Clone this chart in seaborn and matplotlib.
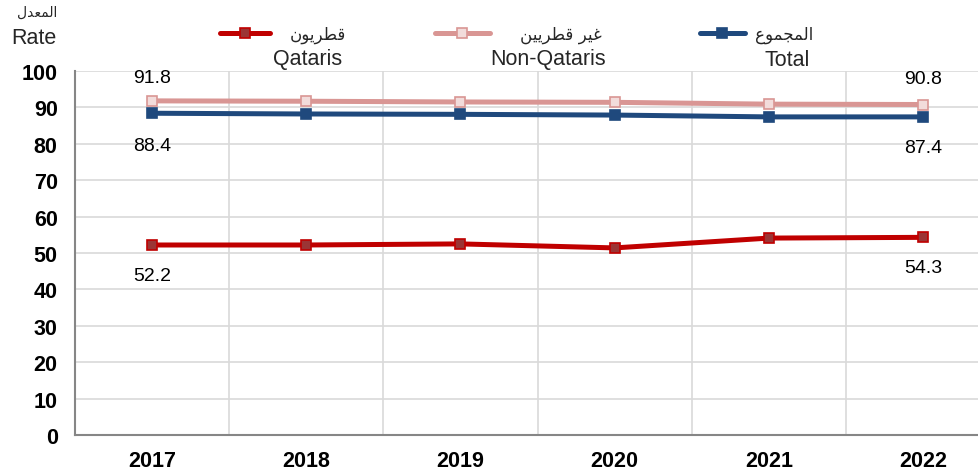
import numpy as np
import pandas as pd
import seaborn as sns
import matplotlib
matplotlib.use('Agg')
import matplotlib.pyplot as plt

years = ['2017', '2018', '2019', '2020', '2021', '2022']
qataris = [52.2, 52.2, 52.5, 51.4, 54.1, 54.3]
non_qataris = [91.8, 91.7, 91.5, 91.4, 90.9, 90.8]
total = [88.4, 88.2, 88.1, 87.9, 87.4, 87.4]

series_ar = ['قطريون', 'غير قطريين', 'المجموع']
series_en = ['Qataris', 'Non-Qataris', 'Total']
title = '2017 - 2022'
ylabel_ar = 'المعدل'
ylabel_en = 'Rate'

# minimal arabic shaping -> presentation forms (matplotlib has no shaping)
FORMS = {
    'ا': ('\uFE8D', '\uFE8E', None, None),
    'د': ('\uFEA9', '\uFEAA', None, None),
    'ر': ('\uFEAD', '\uFEAE', None, None),
    'و': ('\uFEED', '\uFEEE', None, None),
    'ل': ('\uFEDD', '\uFEDE', '\uFEDF', '\uFEE0'),
    'م': ('\uFEE1', '\uFEE2', '\uFEE3', '\uFEE4'),
    'ع': ('\uFEC9', '\uFECA', '\uFECB', '\uFECC'),
    'ق': ('\uFED5', '\uFED6', '\uFED7', '\uFED8'),
    'ط': ('\uFEC1', '\uFEC2', '\uFEC3', '\uFEC4'),
    'ي': ('\uFEF1', '\uFEF2', '\uFEF3', '\uFEF4'),
    'ن': ('\uFEE5', '\uFEE6', '\uFEE7', '\uFEE8'),
    'غ': ('\uFECD', '\uFECE', '\uFECF', '\uFED0'),
    'ج': ('\uFE9D', '\uFE9E', '\uFE9F', '\uFEA0'),
}

def shape(s):
    out = []
    for i, ch in enumerate(s):
        if ch not in FORMS:
            out.append(ch)
            continue
        prev = s[i - 1] if i > 0 else ''
        nxt = s[i + 1] if i < len(s) - 1 else ''
        jp = prev in FORMS and FORMS[prev][2] is not None
        jn = nxt in FORMS and FORMS[ch][2] is not None
        f = FORMS[ch]
        if jp and jn:
            out.append(f[3])
        elif jp:
            out.append(f[1])
        elif jn:
            out.append(f[2])
        else:
            out.append(f[0])
    return ''.join(out[::-1])

sns.set_theme(style='white')
plt.rcParams['font.family'] = ['Liberation Sans', 'DejaVu Sans']

df = pd.DataFrame({
    'Year': years * 3,
    'Rate': qataris + non_qataris + total,
    'Group': [series_en[0]] * 6 + [series_en[1]] * 6 + [series_en[2]] * 6,
})

line_colors = {'Qataris': '#c00000', 'Non-Qataris': '#d99694', 'Total': '#1f497d'}
face_colors = {'Qataris': '#9b3535', 'Non-Qataris': '#f2dcdb', 'Total': '#1f497d'}

fig = plt.figure(figsize=(9.79, 4.77), dpi=100)
ax = fig.add_axes([0.0766, 0.086, 0.945, 0.763])

handles = []
for g in series_en:
    sub = df[df['Group'] == g]
    sns.lineplot(data=sub, x='Year', y='Rate', ax=ax, color=line_colors[g],
                 linewidth=3.6, marker='s', markersize=7.5,
                 markerfacecolor=face_colors[g], markeredgecolor=line_colors[g],
                 markeredgewidth=1.2, legend=False, sort=False)
    handles.append(ax.lines[-1])

ax.set_xlim(-0.5, 5.5)
ax.set_ylim(0, 100)
ax.set_yticks(np.arange(0, 101, 10))
ax.set_xticks(range(6))
ax.set_xticks(np.arange(0.5, 5.5, 1), minor=True)
ax.set_xlabel('')
ax.set_ylabel('')
ax.yaxis.grid(True, color='#d9d9d9', linewidth=1.2)
ax.xaxis.grid(True, which='minor', color='#d9d9d9', linewidth=1.2)
ax.xaxis.grid(False, which='major')
ax.tick_params(axis='both', which='both', length=0, labelsize=15.5)
ax.tick_params(axis='y', pad=12.5)
ax.tick_params(axis='x', pad=11)
for lab in ax.get_xticklabels() + ax.get_yticklabels():
    lab.set_fontweight('bold')
    lab.set_color('black')
for s in ['top', 'right']:
    ax.spines[s].set_visible(False)
for s in ['left', 'bottom']:
    ax.spines[s].set_color('#868686')
    ax.spines[s].set_linewidth(1.5)

# data labels for first and last years
lab_kw = dict(textcoords='offset points', ha='center', va='center', fontsize=14, color='black')
ax.annotate(f'{non_qataris[0]}', (0, non_qataris[0]), xytext=(0, 17), **lab_kw)
ax.annotate(f'{non_qataris[-1]}', (5, non_qataris[-1]), xytext=(0, 19), **lab_kw)
ax.annotate(f'{total[0]}', (0, total[0]), xytext=(0, -23), **lab_kw)
ax.annotate(f'{total[-1]}', (5, total[-1]), xytext=(0, -22), **lab_kw)
ax.annotate(f'{qataris[0]}', (0, qataris[0]), xytext=(0, -22), **lab_kw)
ax.annotate(f'{qataris[-1]}', (5, qataris[-1]), xytext=(0, -22), **lab_kw)

# one legend per series so each sits where it does in the original
leg_x = [220, 435, 700]
leg_hl = [3.0, 3.3, 2.7]
leg_pad = [1.2, 1.8, 0.6]
for h, t, x, hl, pad in zip(handles, series_ar, leg_x, leg_hl, leg_pad):
    leg = fig.legend([h], [shape(t)], frameon=False, loc='center left',
                     bbox_to_anchor=(x / 979, 1 - 35 / 477), fontsize=12,
                     handlelength=hl, handletextpad=pad, borderpad=0, borderaxespad=0)
    for txt in leg.get_texts():
        txt.set_family(['DejaVu Sans'])

for x, t in zip([308, 548, 787], series_en):
    fig.text(x / 979, 1 - 60 / 477, t, ha='center', va='center', fontsize=15.5)

fig.text(57 / 979, 1 - 13 / 477, shape(ylabel_ar), ha='right', va='center', fontsize=10,
         family=['DejaVu Sans'])
fig.text(57 / 979, 1 - 38 / 477, ylabel_en, ha='right', va='center', fontsize=15.5)
fig.text(480 / 979, 1 - 4 / 477, title, ha='center', va='bottom', fontsize=14, fontweight='bold')

fig.savefig('out.png', dpi=100)
